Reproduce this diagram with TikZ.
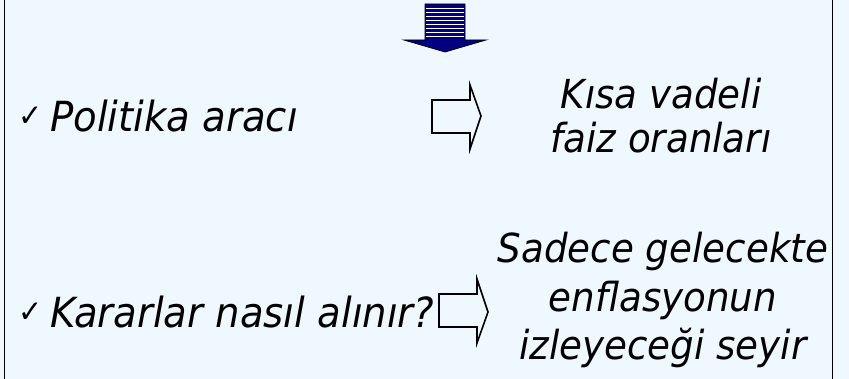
\documentclass[tikz,border=0pt]{standalone}
\usepackage{fontspec}
\setmainfont{DejaVu Sans}[FakeStretch=0.93]
\definecolor{slidebg}{RGB}{240,248,255}
\definecolor{navyblue}{RGB}{0,0,128}

\begin{document}
\begin{tikzpicture}[x=1pt, y=1pt, every node/.style={align=center, inner sep=0pt},
  bigtext/.style={font=\fontsize{40}{44}\selectfont\itshape},
  lefttext/.style={font=\fontsize{41.5}{44}\selectfont\itshape},
  tick/.style={font=\fontsize{31}{31}\selectfont},
  hollowarrow/.style={draw=black, line width=1.6pt, fill=slidebg, line join=miter}]
\fill[slidebg] (0,0) rectangle (849,379);
\useasboundingbox (0,0) rectangle (849,379);
\draw[line width=1.3pt] (4.5,-5) rectangle (832.5,384);
% blue arrow at the top
\fill[navyblue, draw=black, line width=0.8pt] (425,375) -- (465,375) -- (465,339) -- (486,339) -- (445,327) -- (404,339) -- (425,339) -- cycle;
\foreach \y in {370,366,...,342}
  \draw[white, line width=1pt] (426,\y) -- (464,\y);
% left texts
\node (tickone) [tick, anchor=base west] at (18,252) {✓};
\node (tool) [lefttext, anchor=base west] at (50,247) {Politika aracı};
\node (ticktwo) [tick, anchor=base west] at (18,56) {✓};
\node (decide) [lefttext, anchor=base west] at (50,51) {Kararlar nasıl alınır?};
% right texts
\node (shortrate) [bigtext] at (661,263) {Kısa vadeli\\faiz oranları};
\node (forecast) [bigtext, font=\fontsize{40}{48.5}\selectfont\itshape] at (663,79) {Sadece gelecekte\\enflasyonun\\izleyeceği seyir};
% hollow arrows
\draw[hollowarrow] (432,279) -- (470,279) -- (470,294) -- (481,263) -- (470,230) -- (470,246) -- (432,246) -- cycle;
\draw[hollowarrow] (439,85) -- (477,85) -- (477,100) -- (488,67) -- (477,36) -- (477,52) -- (439,52) -- cycle;
\end{tikzpicture}
\end{document}
